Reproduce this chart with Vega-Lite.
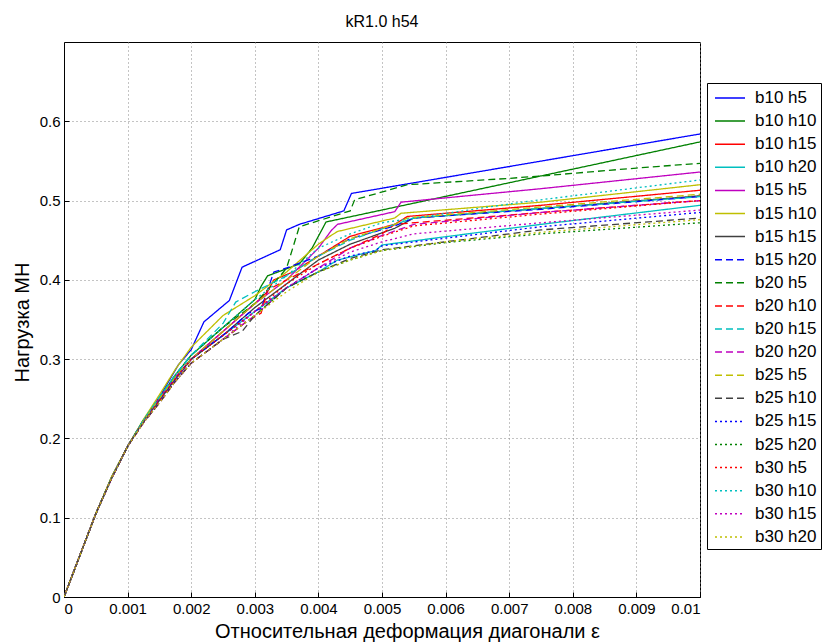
{
"$schema": "https://vega.github.io/schema/vega-lite/v6.json",
"width": 636, "height": 555,
"autosize": "none",
"padding": {"left": 64, "top": 42, "right": 122, "bottom": 45},
"background": "white",
"title": {"text": "kR1.0 h54", "fontSize": 16, "font": "Liberation Sans", "fontWeight": "normal", "offset": 12, "color": "black"},
"config": {
  "view": {"stroke": "black", "strokeWidth": 1},
  "axis": {"labelFont": "Liberation Sans", "labelFontSize": 15, "labelColor": "black", "titleFont": "Liberation Sans", "titleFontSize": 20, "titleFontWeight": "normal", "titleColor": "black", "domainColor": "black", "tickColor": "black", "tickSize": -5, "gridColor": "#888888", "gridDash": [1, 3], "gridOpacity": 1, "gridWidth": 1}
},
"data": {"values": [
{"s":"b10 h5","x":0,"y":0},{"s":"b10 h5","x":0.0005,"y":0.105},{"s":"b10 h5","x":0.00075,"y":0.151},{"s":"b10 h5","x":0.001,"y":0.19},{"s":"b10 h5","x":0.00125,"y":0.223},{"s":"b10 h5","x":0.0015,"y":0.252},{"s":"b10 h5","x":0.0018,"y":0.293},{"s":"b10 h5","x":0.002,"y":0.312},{"s":"b10 h5","x":0.0022,"y":0.347},{"s":"b10 h5","x":0.0026,"y":0.374},{"s":"b10 h5","x":0.0028,"y":0.416},{"s":"b10 h5","x":0.0034,"y":0.438},{"s":"b10 h5","x":0.0035,"y":0.463},{"s":"b10 h5","x":0.0037,"y":0.47},{"s":"b10 h5","x":0.0044,"y":0.487},{"s":"b10 h5","x":0.00452,"y":0.509},{"s":"b10 h5","x":0.01,"y":0.584},
{"s":"b10 h10","x":0,"y":0},{"s":"b10 h10","x":0.0005,"y":0.105},{"s":"b10 h10","x":0.00075,"y":0.151},{"s":"b10 h10","x":0.001,"y":0.19},{"s":"b10 h10","x":0.00125,"y":0.223},{"s":"b10 h10","x":0.0015,"y":0.25},{"s":"b10 h10","x":0.00175,"y":0.28},{"s":"b10 h10","x":0.002,"y":0.305},{"s":"b10 h10","x":0.0025,"y":0.34},{"s":"b10 h10","x":0.003,"y":0.375},{"s":"b10 h10","x":0.0031,"y":0.392},{"s":"b10 h10","x":0.0032,"y":0.405},{"s":"b10 h10","x":0.0037,"y":0.42},{"s":"b10 h10","x":0.0039,"y":0.44},{"s":"b10 h10","x":0.00412,"y":0.473},{"s":"b10 h10","x":0.01,"y":0.574},
{"s":"b10 h15","x":0,"y":0},{"s":"b10 h15","x":0.0005,"y":0.105},{"s":"b10 h15","x":0.00075,"y":0.151},{"s":"b10 h15","x":0.001,"y":0.19},{"s":"b10 h15","x":0.00125,"y":0.222},{"s":"b10 h15","x":0.0015,"y":0.25},{"s":"b10 h15","x":0.00175,"y":0.277},{"s":"b10 h15","x":0.002,"y":0.3},{"s":"b10 h15","x":0.0025,"y":0.335},{"s":"b10 h15","x":0.003,"y":0.37},{"s":"b10 h15","x":0.0032,"y":0.385},{"s":"b10 h15","x":0.0033,"y":0.4},{"s":"b10 h15","x":0.0036,"y":0.41},{"s":"b10 h15","x":0.004,"y":0.43},{"s":"b10 h15","x":0.0045,"y":0.455},{"s":"b10 h15","x":0.0052,"y":0.47},{"s":"b10 h15","x":0.0054,"y":0.48},{"s":"b10 h15","x":0.0075,"y":0.494},{"s":"b10 h15","x":0.01,"y":0.513},
{"s":"b10 h20","x":0,"y":0},{"s":"b10 h20","x":0.0005,"y":0.105},{"s":"b10 h20","x":0.00075,"y":0.15},{"s":"b10 h20","x":0.001,"y":0.19},{"s":"b10 h20","x":0.00125,"y":0.222},{"s":"b10 h20","x":0.0015,"y":0.248},{"s":"b10 h20","x":0.00175,"y":0.275},{"s":"b10 h20","x":0.002,"y":0.3},{"s":"b10 h20","x":0.0025,"y":0.33},{"s":"b10 h20","x":0.003,"y":0.36},{"s":"b10 h20","x":0.0035,"y":0.39},{"s":"b10 h20","x":0.004,"y":0.41},{"s":"b10 h20","x":0.0043,"y":0.425},{"s":"b10 h20","x":0.0049,"y":0.437},{"s":"b10 h20","x":0.005,"y":0.444},{"s":"b10 h20","x":0.0075,"y":0.47},{"s":"b10 h20","x":0.01,"y":0.494},
{"s":"b15 h5","x":0,"y":0},{"s":"b15 h5","x":0.0005,"y":0.105},{"s":"b15 h5","x":0.00075,"y":0.151},{"s":"b15 h5","x":0.001,"y":0.19},{"s":"b15 h5","x":0.00125,"y":0.222},{"s":"b15 h5","x":0.0015,"y":0.25},{"s":"b15 h5","x":0.00175,"y":0.277},{"s":"b15 h5","x":0.002,"y":0.3},{"s":"b15 h5","x":0.0025,"y":0.335},{"s":"b15 h5","x":0.003,"y":0.37},{"s":"b15 h5","x":0.0035,"y":0.4},{"s":"b15 h5","x":0.004,"y":0.44},{"s":"b15 h5","x":0.0042,"y":0.462},{"s":"b15 h5","x":0.0043,"y":0.47},{"s":"b15 h5","x":0.0052,"y":0.486},{"s":"b15 h5","x":0.0053,"y":0.498},{"s":"b15 h5","x":0.0075,"y":0.515},{"s":"b15 h5","x":0.01,"y":0.536},
{"s":"b15 h10","x":0,"y":0},{"s":"b15 h10","x":0.0005,"y":0.105},{"s":"b15 h10","x":0.00075,"y":0.152},{"s":"b15 h10","x":0.001,"y":0.19},{"s":"b15 h10","x":0.00125,"y":0.224},{"s":"b15 h10","x":0.0015,"y":0.255},{"s":"b15 h10","x":0.00175,"y":0.287},{"s":"b15 h10","x":0.002,"y":0.315},{"s":"b15 h10","x":0.0025,"y":0.355},{"s":"b15 h10","x":0.003,"y":0.38},{"s":"b15 h10","x":0.0035,"y":0.41},{"s":"b15 h10","x":0.004,"y":0.445},{"s":"b15 h10","x":0.0042,"y":0.456},{"s":"b15 h10","x":0.0043,"y":0.461},{"s":"b15 h10","x":0.0052,"y":0.478},{"s":"b15 h10","x":0.0053,"y":0.484},{"s":"b15 h10","x":0.0075,"y":0.498},{"s":"b15 h10","x":0.01,"y":0.52},
{"s":"b15 h15","x":0,"y":0},{"s":"b15 h15","x":0.0005,"y":0.105},{"s":"b15 h15","x":0.00075,"y":0.15},{"s":"b15 h15","x":0.001,"y":0.19},{"s":"b15 h15","x":0.00125,"y":0.222},{"s":"b15 h15","x":0.0015,"y":0.248},{"s":"b15 h15","x":0.00175,"y":0.275},{"s":"b15 h15","x":0.002,"y":0.3},{"s":"b15 h15","x":0.0025,"y":0.33},{"s":"b15 h15","x":0.003,"y":0.365},{"s":"b15 h15","x":0.0035,"y":0.395},{"s":"b15 h15","x":0.004,"y":0.425},{"s":"b15 h15","x":0.0045,"y":0.445},{"s":"b15 h15","x":0.0052,"y":0.465},{"s":"b15 h15","x":0.0055,"y":0.478},{"s":"b15 h15","x":0.0075,"y":0.49},{"s":"b15 h15","x":0.01,"y":0.506},
{"s":"b15 h20","x":0,"y":0},{"s":"b15 h20","x":0.0005,"y":0.105},{"s":"b15 h20","x":0.00075,"y":0.15},{"s":"b15 h20","x":0.001,"y":0.19},{"s":"b15 h20","x":0.00125,"y":0.222},{"s":"b15 h20","x":0.0015,"y":0.248},{"s":"b15 h20","x":0.00175,"y":0.275},{"s":"b15 h20","x":0.002,"y":0.3},{"s":"b15 h20","x":0.0025,"y":0.33},{"s":"b15 h20","x":0.0029,"y":0.358},{"s":"b15 h20","x":0.0031,"y":0.364},{"s":"b15 h20","x":0.0033,"y":0.41},{"s":"b15 h20","x":0.0035,"y":0.415},{"s":"b15 h20","x":0.004,"y":0.43},{"s":"b15 h20","x":0.0045,"y":0.452},{"s":"b15 h20","x":0.0052,"y":0.468},{"s":"b15 h20","x":0.0055,"y":0.478},{"s":"b15 h20","x":0.0075,"y":0.489},{"s":"b15 h20","x":0.01,"y":0.505},
{"s":"b20 h5","x":0,"y":0},{"s":"b20 h5","x":0.0005,"y":0.105},{"s":"b20 h5","x":0.00075,"y":0.151},{"s":"b20 h5","x":0.001,"y":0.19},{"s":"b20 h5","x":0.00125,"y":0.223},{"s":"b20 h5","x":0.0015,"y":0.25},{"s":"b20 h5","x":0.00175,"y":0.28},{"s":"b20 h5","x":0.002,"y":0.305},{"s":"b20 h5","x":0.0025,"y":0.34},{"s":"b20 h5","x":0.003,"y":0.37},{"s":"b20 h5","x":0.0034,"y":0.405},{"s":"b20 h5","x":0.0035,"y":0.415},{"s":"b20 h5","x":0.0037,"y":0.467},{"s":"b20 h5","x":0.0045,"y":0.487},{"s":"b20 h5","x":0.00457,"y":0.501},{"s":"b20 h5","x":0.0054,"y":0.52},{"s":"b20 h5","x":0.007,"y":0.528},{"s":"b20 h5","x":0.0075,"y":0.531},{"s":"b20 h5","x":0.009,"y":0.541},{"s":"b20 h5","x":0.01,"y":0.547},
{"s":"b20 h10","x":0,"y":0},{"s":"b20 h10","x":0.0005,"y":0.105},{"s":"b20 h10","x":0.00075,"y":0.15},{"s":"b20 h10","x":0.001,"y":0.19},{"s":"b20 h10","x":0.00125,"y":0.22},{"s":"b20 h10","x":0.0015,"y":0.245},{"s":"b20 h10","x":0.00175,"y":0.272},{"s":"b20 h10","x":0.002,"y":0.295},{"s":"b20 h10","x":0.0025,"y":0.325},{"s":"b20 h10","x":0.0029,"y":0.349},{"s":"b20 h10","x":0.0031,"y":0.358},{"s":"b20 h10","x":0.0032,"y":0.387},{"s":"b20 h10","x":0.0035,"y":0.4},{"s":"b20 h10","x":0.004,"y":0.42},{"s":"b20 h10","x":0.0045,"y":0.44},{"s":"b20 h10","x":0.005,"y":0.458},{"s":"b20 h10","x":0.0052,"y":0.47},{"s":"b20 h10","x":0.0075,"y":0.485},{"s":"b20 h10","x":0.01,"y":0.5},
{"s":"b20 h15","x":0,"y":0},{"s":"b20 h15","x":0.0005,"y":0.105},{"s":"b20 h15","x":0.00075,"y":0.151},{"s":"b20 h15","x":0.001,"y":0.19},{"s":"b20 h15","x":0.00125,"y":0.223},{"s":"b20 h15","x":0.0015,"y":0.252},{"s":"b20 h15","x":0.00175,"y":0.28},{"s":"b20 h15","x":0.002,"y":0.305},{"s":"b20 h15","x":0.0025,"y":0.345},{"s":"b20 h15","x":0.0027,"y":0.372},{"s":"b20 h15","x":0.003,"y":0.385},{"s":"b20 h15","x":0.0035,"y":0.405},{"s":"b20 h15","x":0.004,"y":0.43},{"s":"b20 h15","x":0.0045,"y":0.45},{"s":"b20 h15","x":0.0052,"y":0.47},{"s":"b20 h15","x":0.0055,"y":0.478},{"s":"b20 h15","x":0.0075,"y":0.49},{"s":"b20 h15","x":0.01,"y":0.505},
{"s":"b20 h20","x":0,"y":0},{"s":"b20 h20","x":0.0005,"y":0.105},{"s":"b20 h20","x":0.00075,"y":0.15},{"s":"b20 h20","x":0.001,"y":0.19},{"s":"b20 h20","x":0.00125,"y":0.22},{"s":"b20 h20","x":0.0015,"y":0.245},{"s":"b20 h20","x":0.00175,"y":0.272},{"s":"b20 h20","x":0.002,"y":0.295},{"s":"b20 h20","x":0.0025,"y":0.325},{"s":"b20 h20","x":0.003,"y":0.355},{"s":"b20 h20","x":0.0035,"y":0.39},{"s":"b20 h20","x":0.004,"y":0.415},{"s":"b20 h20","x":0.0045,"y":0.44},{"s":"b20 h20","x":0.005,"y":0.456},{"s":"b20 h20","x":0.0055,"y":0.47},{"s":"b20 h20","x":0.0075,"y":0.485},{"s":"b20 h20","x":0.01,"y":0.5},
{"s":"b25 h5","x":0,"y":0},{"s":"b25 h5","x":0.0005,"y":0.105},{"s":"b25 h5","x":0.00075,"y":0.151},{"s":"b25 h5","x":0.001,"y":0.19},{"s":"b25 h5","x":0.00125,"y":0.222},{"s":"b25 h5","x":0.0015,"y":0.25},{"s":"b25 h5","x":0.00175,"y":0.277},{"s":"b25 h5","x":0.002,"y":0.3},{"s":"b25 h5","x":0.0025,"y":0.335},{"s":"b25 h5","x":0.003,"y":0.37},{"s":"b25 h5","x":0.0035,"y":0.4},{"s":"b25 h5","x":0.004,"y":0.43},{"s":"b25 h5","x":0.0045,"y":0.452},{"s":"b25 h5","x":0.0052,"y":0.47},{"s":"b25 h5","x":0.0054,"y":0.478},{"s":"b25 h5","x":0.0075,"y":0.492},{"s":"b25 h5","x":0.01,"y":0.508},
{"s":"b25 h10","x":0,"y":0},{"s":"b25 h10","x":0.0005,"y":0.105},{"s":"b25 h10","x":0.00075,"y":0.15},{"s":"b25 h10","x":0.001,"y":0.19},{"s":"b25 h10","x":0.00125,"y":0.22},{"s":"b25 h10","x":0.0015,"y":0.245},{"s":"b25 h10","x":0.00175,"y":0.272},{"s":"b25 h10","x":0.002,"y":0.295},{"s":"b25 h10","x":0.0025,"y":0.325},{"s":"b25 h10","x":0.0028,"y":0.335},{"s":"b25 h10","x":0.003,"y":0.355},{"s":"b25 h10","x":0.0035,"y":0.39},{"s":"b25 h10","x":0.004,"y":0.41},{"s":"b25 h10","x":0.0045,"y":0.427},{"s":"b25 h10","x":0.005,"y":0.438},{"s":"b25 h10","x":0.006,"y":0.448},{"s":"b25 h10","x":0.0075,"y":0.463},{"s":"b25 h10","x":0.01,"y":0.478},
{"s":"b25 h15","x":0,"y":0},{"s":"b25 h15","x":0.0005,"y":0.105},{"s":"b25 h15","x":0.00075,"y":0.15},{"s":"b25 h15","x":0.001,"y":0.19},{"s":"b25 h15","x":0.00125,"y":0.222},{"s":"b25 h15","x":0.0015,"y":0.248},{"s":"b25 h15","x":0.00175,"y":0.275},{"s":"b25 h15","x":0.002,"y":0.3},{"s":"b25 h15","x":0.0025,"y":0.33},{"s":"b25 h15","x":0.003,"y":0.36},{"s":"b25 h15","x":0.0035,"y":0.39},{"s":"b25 h15","x":0.004,"y":0.415},{"s":"b25 h15","x":0.0045,"y":0.43},{"s":"b25 h15","x":0.0049,"y":0.437},{"s":"b25 h15","x":0.005,"y":0.443},{"s":"b25 h15","x":0.0075,"y":0.467},{"s":"b25 h15","x":0.01,"y":0.485},
{"s":"b25 h20","x":0,"y":0},{"s":"b25 h20","x":0.0005,"y":0.105},{"s":"b25 h20","x":0.00075,"y":0.15},{"s":"b25 h20","x":0.001,"y":0.19},{"s":"b25 h20","x":0.00125,"y":0.22},{"s":"b25 h20","x":0.0015,"y":0.245},{"s":"b25 h20","x":0.00175,"y":0.272},{"s":"b25 h20","x":0.002,"y":0.295},{"s":"b25 h20","x":0.0025,"y":0.325},{"s":"b25 h20","x":0.003,"y":0.355},{"s":"b25 h20","x":0.0035,"y":0.39},{"s":"b25 h20","x":0.004,"y":0.41},{"s":"b25 h20","x":0.0045,"y":0.425},{"s":"b25 h20","x":0.005,"y":0.437},{"s":"b25 h20","x":0.006,"y":0.447},{"s":"b25 h20","x":0.0075,"y":0.458},{"s":"b25 h20","x":0.01,"y":0.472},
{"s":"b30 h5","x":0,"y":0},{"s":"b30 h5","x":0.0005,"y":0.105},{"s":"b30 h5","x":0.00075,"y":0.15},{"s":"b30 h5","x":0.001,"y":0.19},{"s":"b30 h5","x":0.00125,"y":0.222},{"s":"b30 h5","x":0.0015,"y":0.248},{"s":"b30 h5","x":0.00175,"y":0.275},{"s":"b30 h5","x":0.002,"y":0.3},{"s":"b30 h5","x":0.0025,"y":0.33},{"s":"b30 h5","x":0.003,"y":0.36},{"s":"b30 h5","x":0.0035,"y":0.395},{"s":"b30 h5","x":0.004,"y":0.42},{"s":"b30 h5","x":0.0045,"y":0.44},{"s":"b30 h5","x":0.005,"y":0.455},{"s":"b30 h5","x":0.0055,"y":0.468},{"s":"b30 h5","x":0.0075,"y":0.483},{"s":"b30 h5","x":0.01,"y":0.5},
{"s":"b30 h10","x":0,"y":0},{"s":"b30 h10","x":0.0005,"y":0.105},{"s":"b30 h10","x":0.00075,"y":0.151},{"s":"b30 h10","x":0.001,"y":0.19},{"s":"b30 h10","x":0.00125,"y":0.223},{"s":"b30 h10","x":0.0015,"y":0.252},{"s":"b30 h10","x":0.00175,"y":0.28},{"s":"b30 h10","x":0.002,"y":0.305},{"s":"b30 h10","x":0.0025,"y":0.34},{"s":"b30 h10","x":0.003,"y":0.375},{"s":"b30 h10","x":0.0035,"y":0.405},{"s":"b30 h10","x":0.004,"y":0.44},{"s":"b30 h10","x":0.0045,"y":0.458},{"s":"b30 h10","x":0.005,"y":0.472},{"s":"b30 h10","x":0.0072,"y":0.498},{"s":"b30 h10","x":0.01,"y":0.526},
{"s":"b30 h15","x":0,"y":0},{"s":"b30 h15","x":0.0005,"y":0.105},{"s":"b30 h15","x":0.00075,"y":0.15},{"s":"b30 h15","x":0.001,"y":0.19},{"s":"b30 h15","x":0.00125,"y":0.22},{"s":"b30 h15","x":0.0015,"y":0.245},{"s":"b30 h15","x":0.00175,"y":0.272},{"s":"b30 h15","x":0.002,"y":0.295},{"s":"b30 h15","x":0.0025,"y":0.325},{"s":"b30 h15","x":0.003,"y":0.36},{"s":"b30 h15","x":0.0035,"y":0.39},{"s":"b30 h15","x":0.004,"y":0.415},{"s":"b30 h15","x":0.0045,"y":0.435},{"s":"b30 h15","x":0.005,"y":0.448},{"s":"b30 h15","x":0.0055,"y":0.458},{"s":"b30 h15","x":0.0075,"y":0.472},{"s":"b30 h15","x":0.01,"y":0.488},
{"s":"b30 h20","x":0,"y":0},{"s":"b30 h20","x":0.0005,"y":0.105},{"s":"b30 h20","x":0.00075,"y":0.15},{"s":"b30 h20","x":0.001,"y":0.19},{"s":"b30 h20","x":0.00125,"y":0.22},{"s":"b30 h20","x":0.0015,"y":0.245},{"s":"b30 h20","x":0.00175,"y":0.272},{"s":"b30 h20","x":0.002,"y":0.295},{"s":"b30 h20","x":0.0025,"y":0.325},{"s":"b30 h20","x":0.003,"y":0.355},{"s":"b30 h20","x":0.0035,"y":0.385},{"s":"b30 h20","x":0.004,"y":0.41},{"s":"b30 h20","x":0.0045,"y":0.425},{"s":"b30 h20","x":0.005,"y":0.437},{"s":"b30 h20","x":0.006,"y":0.448},{"s":"b30 h20","x":0.0075,"y":0.46},{"s":"b30 h20","x":0.01,"y":0.476}
]},
"mark": {"type": "line", "strokeWidth": 1.3, "clip": true},
"encoding": {
  "x": {"field": "x", "type": "quantitative", "scale": {"domain": [0, 0.01], "nice": false, "zero": false},
        "axis": {"title": "Относительная деформация диагонали ε", "values": [0,0.001,0.002,0.003,0.004,0.005,0.006,0.007,0.008,0.009,0.01], "format": "~g", "grid": true, "labelPadding": 9, "titleX": 343, "titleY": 34, "titleBaseline": "middle", "titleAnchor": "middle", "titleAlign": "center", "titleFontSize": 20}},
  "y": {"field": "y", "type": "quantitative", "scale": {"domain": [0, 0.7], "nice": false},
        "axis": {"title": "Нагрузка МН", "values": [0,0.1,0.2,0.3,0.4,0.5,0.6], "format": "~g", "grid": true, "labelPadding": 9, "titleX": -42, "titleY": 280, "titleBaseline": "middle", "titleAlign": "center", "titleAngle": -90}},
  "color": {"field": "s", "type": "nominal",
    "scale": {"domain": ["b10 h5","b10 h10","b10 h15","b10 h20","b15 h5","b15 h10","b15 h15","b15 h20","b20 h5","b20 h10","b20 h15","b20 h20","b25 h5","b25 h10","b25 h15","b25 h20","b30 h5","b30 h10","b30 h15","b30 h20"],
              "range": ["#0000FF","#008000","#FF0000","#00BFBF","#BF00BF","#BFBF00","#404040","#0000FF","#008000","#FF0000","#00BFBF","#BF00BF","#BFBF00","#404040","#0000FF","#008000","#FF0000","#00BFBF","#BF00BF","#BFBF00"]},
    "legend": {"orient": "none", "legendX": 643, "legendY": 41, "title": null, "strokeColor": "black", "fillColor": "white", "padding": 4, "symbolType": "M-1.5,0H1.5", "symbolSize": 400, "symbolStrokeWidth": 1.5, "symbolOffset": 8, "labelFont": "Liberation Sans", "labelFontSize": 17, "labelColor": "black", "rowPadding": 4.1, "labelOffset": 14}},
  "strokeDash": {"field": "s", "type": "nominal",
    "scale": {"domain": ["b10 h5","b10 h10","b10 h15","b10 h20","b15 h5","b15 h10","b15 h15","b15 h20","b20 h5","b20 h10","b20 h15","b20 h20","b25 h5","b25 h10","b25 h15","b25 h20","b30 h5","b30 h10","b30 h15","b30 h20"],
              "range": [[1,0],[1,0],[1,0],[1,0],[1,0],[1,0],[1,0],[7,4],[7,4],[7,4],[7,4],[7,4],[7,4],[7,4],[2,3],[2,3],[2,3],[2,3],[2,3],[2,3]]},
    "legend": {"orient": "none", "legendX": 643, "legendY": 41, "title": null, "strokeColor": "black", "fillColor": "white", "padding": 4, "symbolType": "M-1.5,0H1.5", "symbolSize": 400, "symbolStrokeWidth": 1.5, "symbolOffset": 8, "labelFont": "Liberation Sans", "labelFontSize": 17, "labelColor": "black", "rowPadding": 4.1, "labelOffset": 14}}
}
}
